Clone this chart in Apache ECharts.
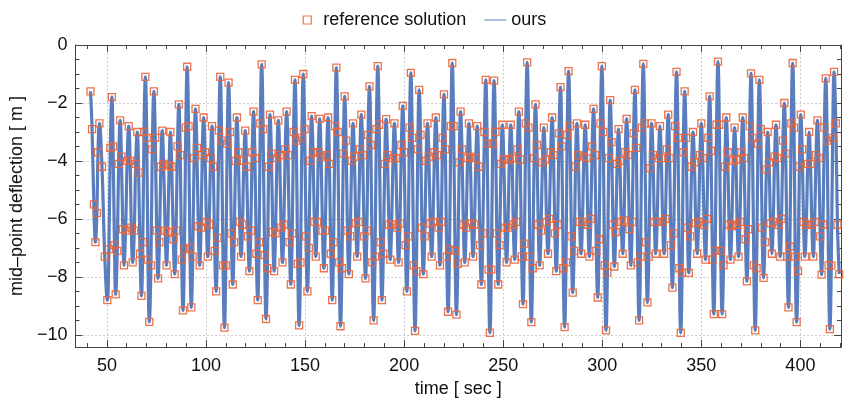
<!DOCTYPE html>
<html>
<head>
<meta charset="utf-8">
<script src="https://cdn.jsdelivr.net/npm/echarts@6/dist/echarts.min.js"></script>
<style>html,body{margin:0;padding:0;background:#fff}#c{width:849px;height:403px}</style>
</head>
<body>
<div id="c"></div>
<script>
// time [sec] of each turning point of the mid-point deflection
const time = [
41.7,44.2,46.2,50.2,52.5,54.4,56.7,58.6,61.0,63.0,65.3,67.4,69.4,71.4,73.7,75.8,77.9,80.1,82.0,84.2,
86.3,88.4,90.5,92.6,94.7,96.8,98.8,100.9,103.0,105.1,107.2,109.3,111.4,113.5,115.6,117.7,119.8,121.9,124.0,126.1,
128.1,130.3,132.3,134.4,136.5,138.6,140.7,142.8,144.9,147.0,149.1,151.2,153.3,155.4,157.4,159.5,161.6,163.7,165.8,167.9,
170.0,172.1,174.2,176.3,178.4,180.5,182.5,184.6,186.7,188.8,190.9,193.0,195.1,197.2,199.3,201.4,203.4,205.5,207.6,209.7,
211.8,213.9,216.0,218.1,220.1,222.2,224.3,226.4,228.5,230.6,232.7,234.8,236.9,239.0,241.2,243.3,245.4,247.5,249.6,251.7,
253.8,255.8,257.9,260.0,262.1,264.2,266.3,268.4,270.5,272.6,274.7,276.8,278.9,281.0,283.0,285.1,287.2,289.3,291.4,293.5,
295.6,297.7,299.8,301.9,304.0,306.1,308.2,310.3,312.3,314.4,316.5,318.6,320.7,322.8,324.9,327.0,329.1,331.2,333.3,335.4,
337.5,339.6,341.6,343.7,345.8,347.9,350.0,352.1,354.2,356.3,358.4,360.5,362.6,364.7,366.8,368.8,370.9,373.0,375.1,377.2,
379.3,381.4,383.5,385.6,387.7,389.8,391.9,394.0,396.1,398.1,400.2,402.3,404.4,406.5,408.6,410.7,412.8,414.9,417.0,419.6
];
// deflection [m] at those turning points
const deflection = [
-1.6,-6.8,-2.7,-8.8,-1.8,-8.6,-2.6,-7.6,-2.8,-7.5,-3.0,-8.65,-1.1,-9.55,-1.6,-8.05,-2.95,-7.6,-3.0,-7.9,
-2.05,-9.15,-0.75,-9.05,-2.2,-7.6,-2.5,-7.3,-2.8,-8.5,-1.1,-9.75,-1.3,-8.26,-2.5,-7.3,-2.95,-7.8,-2.3,-8.8,
-0.67,-9.45,-2.4,-7.8,-2.6,-7.5,-2.3,-8.26,-1.2,-9.67,-1.0,-8.5,-2.45,-7.3,-2.55,-7.7,-2.5,-8.8,-0.78,-9.7,
-1.77,-7.9,-2.7,-7.3,-2.4,-8.05,-1.43,-9.5,-0.73,-8.8,-2.56,-7.4,-2.7,-7.5,-2.1,-8.5,-0.96,-9.86,-1.55,-7.9,
-2.7,-7.3,-2.5,-7.6,-1.7,-9.2,-0.62,-9.3,-2.3,-7.5,-2.7,-7.3,-2.8,-8.26,-1.2,-9.93,-1.23,-8.26,-2.75,-7.5,
-2.75,-7.4,-2.3,-8.94,-0.6,-9.56,-2.05,-7.6,-2.85,-7.2,-2.5,-7.8,-1.45,-9.73,-0.9,-8.54,-2.7,-7.2,-2.75,-7.3,
-2.2,-8.71,-0.73,-9.84,-1.9,-7.64,-2.9,-7.2,-2.55,-7.6,-1.55,-9.5,-0.65,-8.88,-2.7,-7.2,-2.8,-7.2,-2.4,-8.37,
-0.93,-9.93,-1.6,-7.86,-3.0,-7.2,-2.7,-7.4,-1.77,-9.28,-0.57,-9.28,-2.5,-7.4,-2.85,-7.3,-2.5,-8.15,-0.98,-9.84,
-1.2,-8.03,-3.0,-7.2,-2.75,-7.3,-2.0,-9.05,-0.62,-9.56,-2.4,-7.3,-3.0,-7.3,-2.6,-7.92,-1.15,-9.8,-0.93,-7.9
];
// time [sec] of the reference-solution samples seen on the strokes between turning points
const midTime = [
42.5,43.4,44.9,45.5,47.5,48.9,51.0,51.7,53.1,53.8,55.2,55.9,57.3,58.0,59.4,60.2,61.7,62.3,63.8,64.5,
66.0,66.7,68.1,68.7,70.1,70.7,72.2,72.9,74.4,75.1,76.5,77.2,78.6,79.4,80.7,81.4,82.7,83.5,84.9,85.6,
87.0,87.7,89.1,89.8,91.2,91.9,93.3,94.0,95.4,96.1,97.5,98.1,99.5,100.2,101.6,102.3,103.7,104.4,105.8,106.5,
107.9,108.6,110.0,110.7,112.1,112.8,114.2,114.9,116.3,117.0,118.4,119.1,120.5,121.2,122.6,123.3,124.7,125.4,126.8,127.4,
128.8,129.6,131.0,131.6,133.0,133.7,135.1,135.8,137.2,137.9,139.3,140.0,141.4,142.1,143.5,144.2,145.6,146.3,147.7,148.4,
149.8,150.5,151.9,152.6,154.0,154.7,156.1,156.7,158.1,158.8,160.2,160.9,162.3,163.0,164.4,165.1,166.5,167.2,168.6,169.3,
170.7,171.4,172.8,173.5,174.9,175.6,177.0,177.7,179.1,179.8,181.2,181.8,183.2,183.9,185.3,186.0,187.4,188.1,189.5,190.2,
191.6,192.3,193.7,194.4,195.8,196.5,197.9,198.6,200.0,200.7,202.1,202.7,204.1,204.8,206.2,206.9,208.3,209.0,210.4,211.1,
212.5,213.2,214.6,215.3,216.7,217.4,218.8,219.4,220.8,221.5,222.9,223.6,225.0,225.7,227.1,227.8,229.2,229.9,231.3,232.0,
233.4,234.1,235.5,236.2,237.6,238.3,239.7,240.5,241.9,242.6,244.0,244.7,246.1,246.8,248.2,248.9,250.3,251.0,252.4,253.1,
254.5,255.1,256.5,257.2,258.6,259.3,260.7,261.4,262.8,263.5,264.9,265.6,267.0,267.7,269.1,269.8,271.2,271.9,273.3,274.0,
275.4,276.1,277.5,278.2,279.6,280.3,281.7,282.3,283.7,284.4,285.8,286.5,287.9,288.6,290.0,290.7,292.1,292.8,294.2,294.9,
296.3,297.0,298.4,299.1,300.5,301.2,302.6,303.3,304.7,305.4,306.8,307.5,308.9,309.6,311.0,311.6,313.0,313.7,315.1,315.8,
317.2,317.9,319.3,320.0,321.4,322.1,323.5,324.2,325.6,326.3,327.7,328.4,329.8,330.5,331.9,332.6,334.0,334.7,336.1,336.8,
338.2,338.9,340.3,340.9,342.3,343.0,344.4,345.1,346.5,347.2,348.6,349.3,350.7,351.4,352.8,353.5,354.9,355.6,357.0,357.7,
359.1,359.8,361.2,361.9,363.3,364.0,365.4,366.1,367.5,368.1,369.5,370.2,371.6,372.3,373.7,374.4,375.8,376.5,377.9,378.6,
380.0,380.7,382.1,382.8,384.2,384.9,386.3,387.0,388.4,389.1,390.5,391.2,392.6,393.3,394.7,395.4,396.8,397.4,398.8,399.5,
400.9,401.6,403.0,403.7,405.1,405.8,407.2,407.9,409.3,410.0,411.4,412.1,413.5,414.2,415.6,416.3,417.9,418.7
];
// deflection [m] of those samples
const midDeflection = [
-2.9,-5.5,-5.8,-3.7,-4.2,-7.3,-7.05,-3.55,-3.5,-6.9,-7.1,-4.1,-3.85,-6.35,-6.4,-4.0,-4.0,-6.3,-6.4,-4.1,
-4.4,-7.2,-6.8,-3.0,-3.2,-7.4,-7.6,-3.6,-3.2,-6.4,-6.8,-4.2,-4.1,-6.4,-6.45,-4.15,-4.2,-6.7,-6.4,-3.5,
-3.8,-7.4,-7.05,-2.85,-2.8,-7.0,-7.3,-3.9,-3.55,-6.25,-6.3,-3.8,-3.7,-6.1,-6.2,-3.9,-4.2,-7.1,-6.65,-2.95,
-3.3,-7.6,-7.6,-3.4,-3.0,-6.5,-6.8,-4.0,-3.7,-6.1,-6.2,-4.0,-4.2,-6.6,-6.4,-3.7,-3.9,-7.2,-6.8,-2.7,
-2.9,-7.25,-7.7,-4.2,-3.75,-6.45,-6.5,-3.9,-3.8,-6.3,-6.2,-3.6,-3.8,-6.8,-6.5,-3.0,-3.3,-7.55,-7.5,-3.2,
-2.9,-6.6,-7.0,-4.0,-3.7,-6.1,-6.1,-3.7,-3.85,-6.4,-6.4,-3.8,-4.1,-7.2,-6.8,-2.8,-3.0,-7.5,-7.7,-3.75,
-3.3,-6.4,-6.6,-4.0,-3.85,-6.15,-6.1,-3.6,-3.8,-6.6,-6.4,-3.1,-3.45,-7.5,-7.3,-2.9,-2.75,-6.8,-7.2,-4.1,
-3.8,-6.2,-6.2,-3.9,-3.9,-6.3,-6.15,-3.45,-3.7,-6.9,-6.6,-2.85,-3.2,-7.6,-7.8,-3.6,-3.1,-6.3,-6.6,-4.0,
-3.85,-6.15,-6.1,-3.7,-3.8,-6.3,-6.1,-3.2,-3.6,-7.3,-7.05,-2.8,-2.8,-7.1,-7.55,-4.05,-3.6,-6.2,-6.3,-3.9,
-3.85,-6.15,-6.2,-3.9,-4.2,-6.9,-6.5,-3.0,-3.4,-7.75,-7.75,-3.4,-3.0,-6.5,-6.9,-4.1,-3.95,-6.3,-6.3,-3.95,
-3.9,-6.2,-6.1,-3.6,-3.95,-7.3,-6.85,-2.7,-2.85,-7.3,-7.7,-3.9,-3.45,-6.2,-6.4,-4.05,-3.95,-6.1,-6.0,-3.7,
-3.8,-6.5,-6.2,-3.05,-3.5,-7.7,-7.5,-3.1,-2.8,-6.6,-7.1,-4.2,-3.8,-6.1,-6.1,-3.85,-3.9,-6.2,-6.0,-3.5,
-3.8,-7.1,-6.7,-2.7,-3.0,-7.6,-7.85,-3.9,-3.35,-6.2,-6.45,-4.1,-4.0,-6.1,-6.05,-3.7,-3.8,-6.35,-6.1,-3.05,
-3.55,-7.5,-7.3,-2.85,-2.7,-6.8,-7.3,-4.25,-3.8,-6.1,-6.1,-3.9,-3.9,-6.1,-6.0,-3.6,-3.9,-6.9,-6.5,-2.8,
-3.2,-7.7,-7.85,-3.7,-3.2,-6.3,-6.6,-4.2,-4.05,-6.15,-6.1,-3.8,-3.9,-6.2,-6.0,-3.2,-3.65,-7.4,-7.1,-2.75,
-2.75,-7.1,-7.6,-4.2,-3.7,-6.2,-6.25,-4.0,-3.95,-6.2,-6.1,-3.7,-3.9,-6.7,-6.35,-2.8,-3.2,-7.6,-7.7,-3.4,
-2.9,-6.3,-6.8,-4.3,-4.05,-6.15,-6.1,-3.85,-3.9,-6.2,-6.0,-3.3,-3.75,-7.3,-6.95,-2.7,-2.85,-7.3,-7.8,-4.2,
-3.6,-6.1,-6.2,-4.1,-4.1,-6.2,-6.1,-3.8,-3.9,-6.6,-6.2,-2.85,-3.3,-7.6,-7.6,-3.2,-2.7,-6.2
];
const xTicks = [50,100,150,200,250,300,350,400];
const yTicks = [0,-2,-4,-6,-8,-10];

const FONT = '"Liberation Sans", Arial, sans-serif';
const turning = time.map((t,i)=>[t, deflection[i]]);
const samples = turning.concat(midTime.map((t,i)=>[t, midDeflection[i]])).sort((a,b)=>a[0]-b[0]);
const fmt = v => (v < 0 ? '\u2212' + Math.abs(v) : String(v));
const frame = '#444';
const XMIN = 34.1, XMAX = 420.5, YMIN = -10.42, YMAX = 0;

function xAxisCfg(pos, labels){
  return {
    type:'value', position:pos, min:XMIN, max:XMAX, minInterval:50, maxInterval:50,
    axisLine:{show:true, onZero:false, lineStyle:{color:frame, width:1}},
    axisTick:{show:true, inside:true, length:7, lineStyle:{color:frame}},
    minorTick:{show:true, splitNumber:5, length:4, lineStyle:{color:frame}},
    axisLabel:{show:labels, color:'#111', fontSize:18, fontFamily:FONT, margin:10,
      showMinLabel:false, showMaxLabel:false,
      formatter:v => xTicks.includes(Math.round(v*1000)/1000) ? String(v) : ''},
    splitLine:{show:labels, lineStyle:{color:'#bdbdbd', type:[1.5,2.5], width:1}},
    name: labels ? 'time [ sec ]' : '', nameLocation:'middle', nameGap:32,
    nameTextStyle:{color:'#111', fontSize:18, fontFamily:FONT}
  };
}
function yAxisCfg(pos, labels){
  return {
    type:'value', position:pos, min:YMIN, max:YMAX, minInterval:2, maxInterval:2,
    axisLine:{show:true, onZero:false, lineStyle:{color:frame, width:1}},
    axisTick:{show:true, inside:true, length:7, lineStyle:{color:frame}},
    minorTick:{show:true, splitNumber:4, length:4, lineStyle:{color:frame}},
    axisLabel:{show:labels, color:'#111', fontSize:18, fontFamily:FONT, margin:8,
      showMinLabel:false,
      formatter:v => yTicks.includes(Math.round(v*1000)/1000) ? fmt(v) : ''},
    splitLine:{show:labels, lineStyle:{color:'#bdbdbd', type:[1.5,2.5], width:1}},
    name: labels ? 'mid\u2013point deflection [ m ]' : '', nameLocation:'middle', nameGap:46,
    nameTextStyle:{color:'#111', fontSize:18, fontFamily:FONT}
  };
}

const chart = echarts.init(document.getElementById('c'), null, {renderer:'canvas'});
chart.setOption({
  animation:false,
  backgroundColor:'#fff',
  grid:{left:73, right:8, top:45, bottom:51, containLabel:false},
  legend:{
    top:6, left:'center', itemGap:18, itemWidth:22, itemHeight:8,
    textStyle:{color:'#111', fontSize:18, fontFamily:FONT},
    data:[
      {name:'reference solution', icon:'path://M0,0L10,0L10,10L0,10Z',
       itemStyle:{color:'rgba(0,0,0,0)', borderColor:'#e8643a', borderWidth:1.2}},
      {name:'ours', icon:'path://M0,4L30,4L30,6L0,6Z', itemStyle:{color:'#8ea6d1'}}
    ]
  },
  xAxis:[xAxisCfg('bottom', true), xAxisCfg('top', false)],
  yAxis:[yAxisCfg('left', true), yAxisCfg('right', false)],
  series:[
    {name:'ours', type:'line', data:samples, smooth:0.45, showSymbol:false, symbol:'none',
     lineStyle:{color:'#5a7ebd', width:3.2}, itemStyle:{color:'#5a7ebd'}, z:2},
    {name:'reference solution', type:'scatter', data:samples, symbol:'rect', symbolSize:7,
     itemStyle:{color:'rgba(0,0,0,0)', borderColor:'#e8643a', borderWidth:1.3, opacity:0.9}, z:3}
  ]
});
</script>
</body>
</html>
